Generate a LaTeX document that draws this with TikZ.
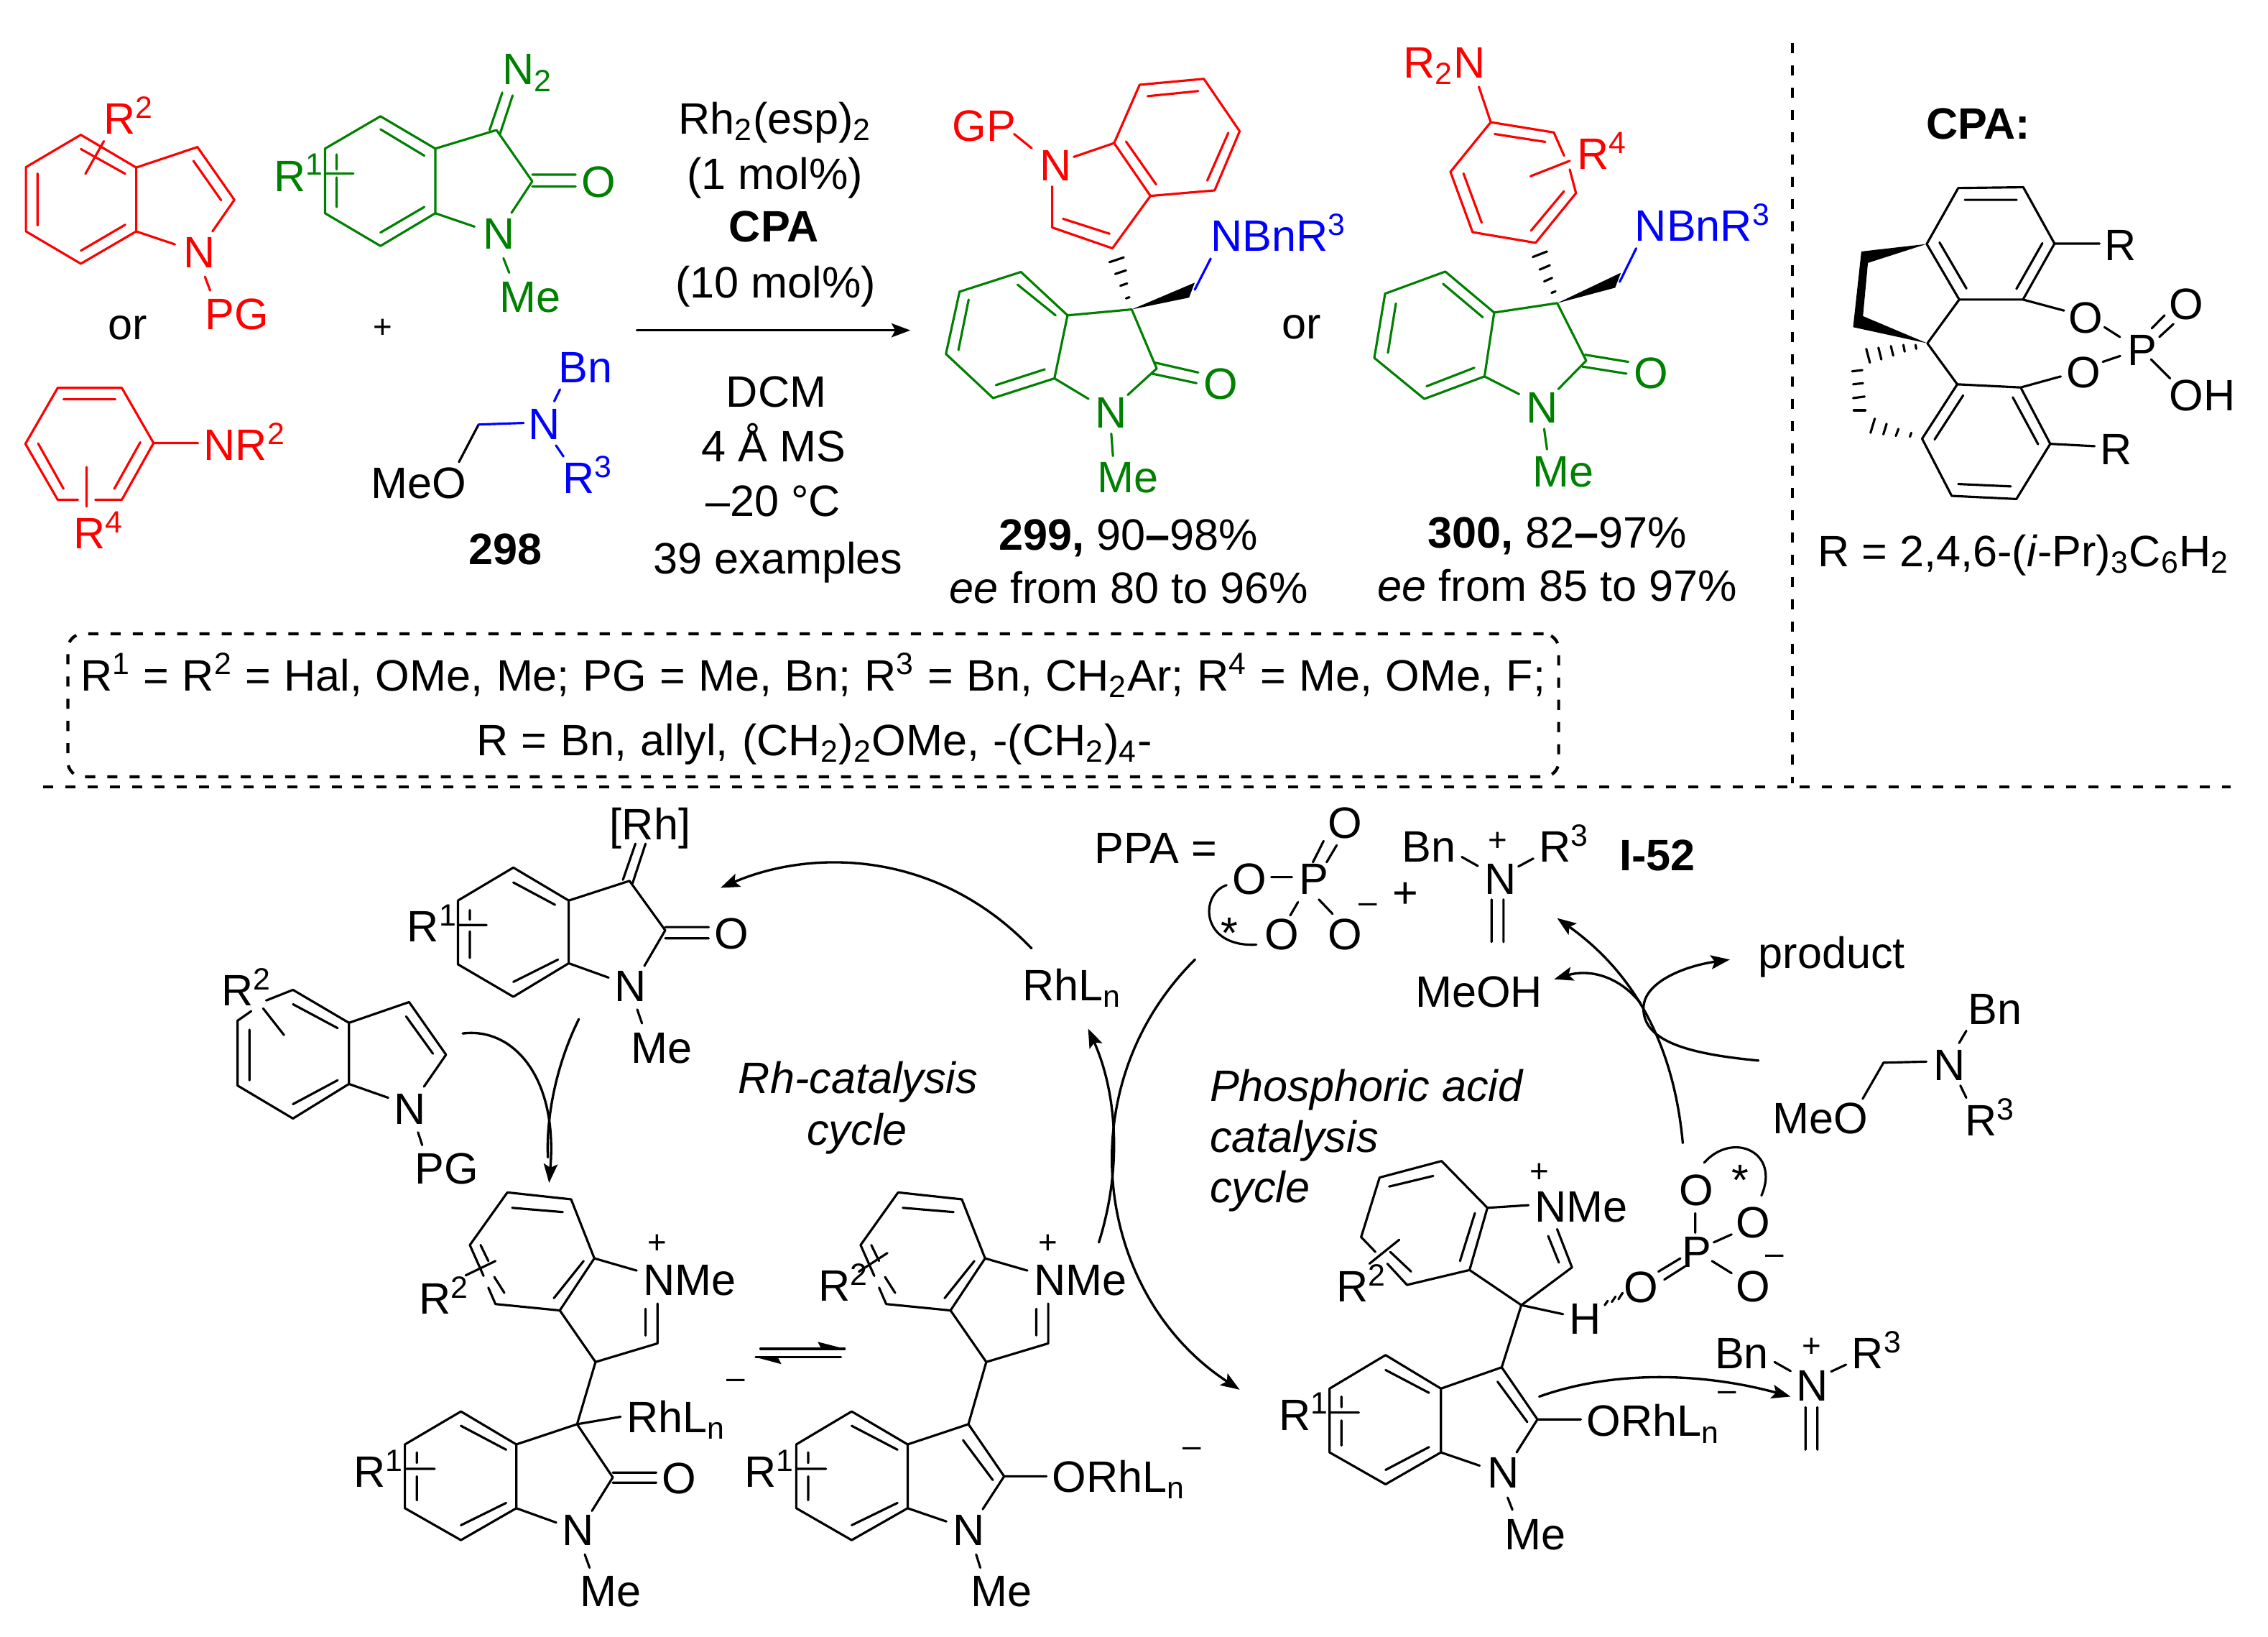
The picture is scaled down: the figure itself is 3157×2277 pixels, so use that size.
\documentclass[tikz,border=0pt]{standalone}
\usepackage{fontspec}
\setmainfont{Liberation Sans}
\usetikzlibrary{arrows.meta}
\definecolor{molgreen}{rgb}{0,0.5,0}
\newcommand{\supr}[1]{\textsuperscript{#1}}
\newcommand{\subr}[1]{\textsubscript{#1}}
\tikzset{txt/.style={inner sep=0pt, outer sep=0pt, anchor=base west, font=\fontsize{17.4}{20}\selectfont},
         sign/.style={inner sep=0pt, outer sep=0pt, font=\fontsize{13}{15}\selectfont},
         rxn/.style={line width=.95pt, -{Stealth[length=7.5pt,width=5.5pt,inset=1.5pt]}},
         sepline/.style={line width=1.2pt, dash pattern=on 4pt off 4.8pt, line cap=butt}}

\begin{document}
\begin{tikzpicture}[x=.01cm, y=-.01cm, line width=.9pt, line cap=round, line join=round]
  \useasboundingbox (0,0) rectangle (3157,2277);

  % separators
  \coordinate (sepT) at (2495,60);
  \coordinate (sepB) at (2495,1090);
  \coordinate (sepL) at (60,1095);
  \coordinate (sepR) at (3105,1095);
  \draw[sepline] (sepT) -- (sepB) (sepL) -- (sepR);
  \node[draw, sepline, rounded corners=6pt, minimum width=20.74cm, minimum height=1.99cm, inner sep=0pt] (legendbox) at (1132,981.5) {};
  \node[txt] (legend1) at (112,961) {\makebox[20.38cm][s]{R\supr{1} = R\supr{2} = Hal, OMe, Me; PG = Me, Bn; R\supr{3} = Bn, CH\subr{2}Ar; R\supr{4} = Me, OMe, F;}};
  \node[txt] (legend2) at (663,1051) {\makebox[9.4cm][s]{R = Bn, allyl, (CH\subr{2})\subr{2}OMe, -(CH\subr{2})\subr{4}-}};

  % starting materials and conditions
  \begin{scope}[xscale=.8036, yscale=.5485]
    \begin{scope}[red]
      \draw (236,425) -- (140,342) -- (45,424) -- (45,587) -- (140,669) -- (236,587) -- cycle;
      \draw (65,440) -- (65,572) (140,636) -- (217,570) (140,378) -- (217,441);
      \draw (236,425) -- (342,373) -- (406,507) -- (368,587) (236,587) -- (303,620) (335,408) -- (383,508);
      \draw (355,702) -- (364,737) (180,358) -- (148,441);
      \node[txt] (indN) at (318,680) {N};
      \node[txt] (indPG) at (355,835) {PG};
      \node[txt] (indR) at (180,340) {R\supr{2}};

      \draw (135,1268) -- (100,1268) -- (44,1126) -- (100,984) -- (211,984) -- (266,1124) -- (211,1268) -- (165,1268);
      \draw (110,1013) -- (200,1013) (66,1125) -- (110,1240) (243,1122) -- (198,1240) (150,1185) -- (150,1285) (266,1124) -- (343,1124);
      \node[txt] (anilN) at (353,1168) {NR\supr{2}};
      \node[txt] (anilR) at (127,1392) {R\supr{4}};
    \end{scope}
    \node[txt] (or1) at (187,862) {or};
    \node[sign] (plus1) at (663,833) {+};

    \begin{scope}[molgreen]
      \draw (754,377) -- (659,295) -- (563,377) -- (563,541) -- (659,624) -- (754,541) -- cycle;
      \draw (659,328) -- (735,395) (659,590) -- (735,525) (583,392) -- (583,430) (583,450) -- (583,525) (563,440) -- (612,440);
      \draw (754,377) -- (860,330) -- (922,460) -- (886,540) (754,541) -- (822,575);
      \draw (922,443) -- (997,443) (922,473) -- (997,473) (872,655) -- (882,692);
      \draw (848,330) -- (870,235) (866,340) -- (888,242);
      \node[txt] (diaN2) at (870,215) {N\subr{2}};
      \node[txt] (diaO) at (1007,500) {O};
      \node[txt] (diaN) at (837,632) {N};
      \node[txt] (diaMe) at (865,792) {Me};
      \node[txt] (diaR) at (475,485) {R\supr{1}};
    \end{scope}

    \node[txt] (aminMeO) at (643,1265) {MeO};
    \draw (795,1172) -- (829,1077);
    \begin{scope}[blue]
      \draw (829,1077) -- (907,1073) (970,988) -- (960,1018) (963,1130) -- (976,1158);
      \node[txt] (aminN) at (915,1115) {N};
      \node[txt] (aminBn) at (968,970) {Bn};
      \node[txt] (aminR) at (975,1252) {R\supr{3}};
    \end{scope}
    \node[txt] (lab298) at (812,1432) {\textbf{298}};

    \node[txt] (cond1) at (1175,340) {Rh\subr{2}(esp)\subr{2}};
    \node[txt] (cond2) at (1190,480) {(1 mol\%)};
    \node[txt] (cond3) at (1263,613) {\textbf{CPA}};
    \node[txt] (cond4) at (1170,755) {(10 mol\%)};
    \node[txt] (cond5) at (1258,1033) {DCM};
    \node[txt] (cond6) at (1215,1172) {4 Å MS};
    \node[txt] (cond7) at (1222,1310) {–20 °C};
    \node[txt] (cond8) at (1132,1455) {39 examples};
    \coordinate (mainA) at (1103,838);
    \coordinate (mainB) at (1577,838);
    \draw[rxn] (mainA) -- (mainB);
  \end{scope}

  % products
  \begin{scope}[shift={(1240,0)}, xscale=.7908, yscale=.5485]
    \begin{scope}[red]
      \draw (393,363) -- (438,215) -- (551,200) -- (614,333) -- (570,483) -- (457,497) -- cycle;
      \draw (452,244) -- (541,231) (594,337) -- (557,458) (414,359) -- (467,468);
      \draw (393,363) -- (322,398) (284,473) -- (284,577) -- (390,630) -- (457,497) (303,555) -- (385,593) (248,376) -- (217,340);
      \node[txt] (p1N) at (262,458) {N};
      \node[txt] (p1GP) at (108,358) {GP};
    \end{scope}
    \foreach \a/\b/\c/\d in {385/665/410/653, 395/695/414/686, 404/725/416/719, 414/757/420/754}
      \draw (\a,\b) -- (\c,\d);
    \fill (424,785) -- (535,717) -- (525,755) -- cycle;
    \draw[blue] (535,735) -- (563,656);
    \node[txt, blue] (p1NBn) at (563,637) {NBnR\supr{3}};
    \begin{scope}[molgreen]
      \draw (311,800) -- (229,690) -- (121,740) -- (97,898) -- (180,1010) -- (288,960) -- cycle;
      \draw (223,722) -- (290,800) (137,760) -- (119,888) (185,977) -- (271,937);
      \draw (311,800) -- (424,785) -- (468,935) -- (417,1002) (288,960) -- (348,1012);
      \draw (465,920) -- (541,945) (460,948) -- (538,972) (388,1100) -- (391,1157);
      \node[txt] (p1N2) at (360,1085) {N};
      \node[txt] (p1O) at (551,1012) {O};
      \node[txt] (p1Me) at (363,1250) {Me};
    \end{scope}
    \node[txt] (or2) at (688,860) {or};
    \node[txt] (lab299) at (190,1395) {\textbf{299,} 90\textbf{–}98\%};
    \node[txt] (ee299) at (103,1530) {\textit{ee} from 80 to 96\%};

    \begin{scope}[red]
      \draw (1185,395) -- (1167,336) -- (1056,310) -- (985,436) -- (1024,589) -- (1135,616) -- (1206,490) -- (1195,430);
      \draw (1063,340) -- (1152,360) (1185,485) -- (1127,585) (1040,565) -- (1008,440) (1126,447) -- (1195,408) (1035,220) -- (1056,310);
      \node[txt] (p2R) at (1208,430) {R\supr{4}};
      \node[txt] (p2N) at (902,198) {R\subr{2}N};
    \end{scope}
    \foreach \a/\b/\c/\d in {1130/652/1155/638, 1142/684/1160/673, 1150/714/1164/705, 1163/743/1170/739}
      \draw (\a,\b) -- (\c,\d);
    \fill (1173,769) -- (1285,692) -- (1275,730) -- cycle;
    \draw[blue] (1283,715) -- (1312,630);
    \node[txt, blue] (p2NBn) at (1310,612) {NBnR\supr{3}};
    \begin{scope}[molgreen]
      \draw (1062,793) -- (976,689) -- (870,745) -- (851,908) -- (939,1012) -- (1045,955) -- cycle;
      \draw (972,720) -- (1042,805) (889,770) -- (875,895) (943,980) -- (1027,933);
      \draw (1062,793) -- (1173,769) -- (1224,915) -- (1175,987) (1045,955) -- (1106,1000);
      \draw (1222,900) -- (1298,918) (1217,930) -- (1295,948) (1150,1088) -- (1155,1140);
      \node[txt] (p2N2) at (1118,1072) {N};
      \node[txt] (p2O) at (1308,985) {O};
      \node[txt] (p2Me) at (1130,1235) {Me};
    \end{scope}
    \node[txt] (lab300) at (945,1390) {\textbf{300,} 82\textbf{–}97\%};
    \node[txt] (ee300) at (857,1525) {\textit{ee} from 85 to 97\%};
  \end{scope}

  % catalyst
  \begin{scope}[shift={(2440,0)}, xscale=.4573, yscale=.5485]
    \node[txt] (cpaT) at (527,352) {\textbf{CPA:}};
    \draw (529,619) -- (625,477) -- (823,475) -- (918,618) -- (822,760) -- (628,760) -- cycle;
    \draw (645,507) -- (803,507) (881,617) -- (802,733) (568,615) -- (650,732);
    \draw (622,975) -- (815,983) -- (905,1126) -- (802,1266) -- (605,1258) -- (515,1113) -- cycle;
    \draw (640,1003) -- (553,1115) (791,1008) -- (868,1127) (625,1228) -- (785,1234);
    \draw (628,760) -- (531,871) -- (622,975);
    \draw (822,760) -- (947,788) (815,983) -- (937,955) (1070,830) -- (1117,855) (1065,918) -- (1118,903);
    \draw (1214,833) -- (1253,800) (1237,855) -- (1280,822) (1212,912) -- (1270,960);
    \draw (918,618) -- (1055,618) (905,1126) -- (1040,1132);
    \node[txt] (cpaO1) at (960,845) {O};
    \node[txt] (cpaO2) at (955,983) {O};
    \node[txt] (cpaP) at (1140,927) {P};
    \node[txt] (cpaO3) at (1268,810) {O};
    \node[txt] (cpaOH) at (1268,1042) {OH};
    \node[txt] (cpaR1) at (1070,660) {R};
    \node[txt] (cpaR2) at (1058,1178) {R};
    \fill (529,619) -- (330,638) -- (305,830) -- (531,871) -- (335,802) -- (350,667) -- cycle;
    \foreach \a/\b/\c/\d in {495/875/497/885, 458/875/462/892, 420/878/427/902, 382/882/391/912, 345/885/356/920,
                             302/942/333/939, 305/975/335/972, 305/1010/340/1006, 307/1041/342/1041,
                             358/1098/371/1062, 397/1102/407/1075, 435/1106/443/1088, 478/1108/482/1098}
      \draw (\a,\b) -- (\c,\d);
    \node[txt] (cpaDef) at (198,1437) {R = 2,4,6-(\textit{i}-Pr)\subr{3}C\subr{6}H\subr{2}};
  \end{scope}

  % Rh cycle
  \begin{scope}[shift={(300,1100)}, xscale=.8291, yscale=.7398]
    \draw (593,207) -- (500,145) -- (407,207) -- (407,327) -- (500,388) -- (593,325) -- cycle;
    \draw (500,173) -- (570,215) (500,360) -- (575,318) (427,225) -- (427,243) (427,265) -- (427,315) (407,253) -- (455,253);
    \draw (593,207) -- (695,170) -- (755,263) -- (720,330) (593,325) -- (660,352);
    \draw (755,257) -- (828,257) (755,278) -- (828,278) (708,412) -- (716,438) (684,168) -- (705,100) (700,175) -- (722,100);
    \node[txt] (cbO) at (838,298) {O};
    \node[txt] (cbN) at (670,397) {N};
    \node[txt] (cbMe) at (698,513) {Me};
    \node[txt] (cbRh) at (662,92) {[Rh]};
    \node[txt] (cbR) at (322,285) {R\supr{1}};

    \draw (85,395) -- (130,375) -- (224,437) -- (224,552) -- (130,617) -- (37,555) -- (37,433) -- (60,415);
    \draw (130,402) -- (205,447) (130,590) -- (205,545) (57,450) -- (57,545);
    \draw (224,437) -- (325,398) -- (387,497) -- (350,557) (320,425) -- (365,495) (224,552) -- (290,578);
    \draw (340,643) -- (347,667) (80,410) -- (115,460);
    \node[txt] (inN) at (300,628) {N};
    \node[txt] (inPG) at (335,740) {PG};
    \node[txt] (inR) at (10,405) {R\supr{2}};

    \coordinate (a1A) at (415,457);
    \coordinate (a1B) at (560,738);
    \coordinate (a2A) at (610,430);
    \coordinate (a2B) at (558,690);
    \coordinate (a3A) at (1370,297);
    \coordinate (a3B) at (848,183);
    \coordinate (a4A) at (1483,850);
    \coordinate (a4B) at (1465,448);
    \draw[rxn] (a1A) .. controls (500,445) and (575,540) .. (a1B);
    \draw[line width=.95pt] (a2A) .. controls (570,520) and (555,620) .. (a2B);
    \draw[rxn] (a3A) .. controls (1210,110) and (1000,110) .. (a3B);
    \draw[rxn] (a4A) .. controls (1525,700) and (1510,560) .. (a4B);

    % the two indolium parts
    \foreach \s/\n in {0/L,656/M} {
      \begin{scope}[shift={(\s,0)}]
        \draw (490,756) -- (597,769) -- (636,880) -- (578,978) -- (470,966) (450,913) -- (427,855) -- (490,756);
        \draw (498,785) -- (583,793) (618,885) -- (568,955) (445,855) -- (458,885) (468,915) -- (485,945);
        \draw (470,966) -- (458,935);
        \draw (636,880) -- (707,903) (742,965) -- (742,1040) -- (638,1075) -- (578,978) (722,975) -- (722,1025);
        \node[txt] (nme\n) at (718,950) {NMe};
        \node[sign] (plus\n) at (742,853) {+};
      \end{scope}
    }
    \draw (420,912) -- (470,885) (1080,905) -- (1128,870);
    \node[txt] (r2L) at (342,985) {R\supr{2}};
    \node[txt] (r2M) at (1012,960) {R\supr{2}};

    \draw (638,1075) -- (607,1192);
    \draw (505,1230) -- (412,1168) -- (318,1230) -- (318,1350) -- (412,1410) -- (505,1350) -- cycle;
    \draw (412,1195) -- (488,1240) (412,1382) -- (488,1340) (338,1245) -- (338,1265) (338,1290) -- (338,1335) (318,1276) -- (368,1276);
    \draw (505,1230) -- (607,1192) -- (667,1292) -- (632,1355) (505,1350) -- (572,1377);
    \draw (667,1283) -- (740,1283) (667,1302) -- (740,1302) (620,1437) -- (628,1462) (607,1192) -- (680,1178);
    \node[txt] (lowO) at (750,1322) {O};
    \node[txt] (lowN) at (582,1420) {N};
    \node[txt] (lowMe) at (612,1535) {Me};
    \node[txt] (lowRh) at (690,1208) {RhL\subr{n}};
    \node[sign] (lowMinus) at (873,1117) {–};
    \node[txt] (lowR) at (232,1310) {R\supr{1}};

    \coordinate (eqA) at (915,1050);
    \coordinate (eqB) at (1056,1050);
    \coordinate (eqC) at (1050,1066);
    \coordinate (eqD) at (907,1066);
    \fill (eqB) -- (1011,1037) -- (1017,1050) -- cycle;
    \fill (eqD) -- (950,1079) -- (944,1066) -- cycle;
    \draw[line width=.95pt] (eqA) -- (eqB) (eqC) -- (eqD);

    \draw (1294,1075) -- (1264,1192);
    \draw (1162,1230) -- (1068,1168) -- (975,1230) -- (975,1350) -- (1068,1410) -- (1162,1350) -- cycle;
    \draw (1068,1195) -- (1145,1240) (1068,1382) -- (1145,1340) (995,1245) -- (995,1265) (995,1290) -- (995,1335) (975,1276) -- (1025,1276);
    \draw (1162,1230) -- (1264,1192) -- (1324,1290) -- (1288,1352) (1255,1222) -- (1305,1297) (1162,1350) -- (1227,1375);
    \draw (1324,1290) -- (1395,1290) (1277,1437) -- (1284,1462);
    \node[txt] (enN) at (1238,1420) {N};
    \node[txt] (enMe) at (1268,1535) {Me};
    \node[txt] (enR) at (888,1310) {R\supr{1}};
    \node[txt] (enORh) at (1405,1320) {ORhL\subr{n}};

    \node[txt] (rhl) at (1355,395) {RhL\subr{n}};
    \node[txt] (rhcat) at (878,570) {\textit{Rh-catalysis}};
    \node[txt] (rhcyc) at (993,667) {\textit{cycle}};
  \end{scope}

  % phosphoric acid cycle
  \begin{scope}[shift={(1500,1100)}, xscale=.8291, yscale=.7398]
    \node[sign] (enMinus) at (192,1245) {–};
    \node[txt] (ppa) at (28,137) {PPA =};
    \draw (325,163) -- (360,163) (395,135) -- (413,95) (418,135) -- (435,103) (370,210) -- (357,235) (405,205) -- (428,232);
    \node[txt] (ppaO1) at (260,195) {O};
    \node[txt] (ppaP) at (372,195) {P};
    \node[txt] (ppaO2) at (420,90) {O};
    \node[txt] (ppaO3) at (314,300) {O};
    \node[txt] (ppaO4) at (420,300) {O};
    \node[sign] (ppaMinus) at (487,222) {–};
    \draw (250,178) .. controls (205,195) and (205,295) .. (300,290);
    \node[txt] (ppaStar) at (240,297) {*};
    \node[txt, anchor=center] (ppaPlus) at (550,197) {+};

    \draw (645,125) -- (672,142) (740,143) -- (765,128) (695,205) -- (695,285) (715,205) -- (715,285);
    \node[txt] (imBn) at (545,135) {Bn};
    \node[txt] (imN) at (683,195) {N};
    \node[sign] (imPlus) at (705,97) {+};
    \node[txt] (imR) at (775,135) {R\supr{3}};
    \node[txt] (lab52) at (910,150) {\textbf{I-52}};

    \node[txt] (meoh) at (567,407) {MeOH};
    \node[txt] (prod) at (1143,335) {product};
    \coordinate (b1A) at (1016,663);
    \coordinate (b1B) at (805,240);
    \coordinate (b2A) at (945,400);
    \coordinate (b2B) at (800,355);
    \coordinate (b3A) at (1143,508);
    \coordinate (b3B) at (1095,318);
    \coordinate (b4A) at (197,318);
    \coordinate (b4B) at (272,1127);
    \coordinate (b5A) at (775,1140);
    \coordinate (b5B) at (1197,1140);
    \draw[rxn] (b1A) .. controls (1000,470) and (930,340) .. (b1B);
    \draw[rxn] (b2A) .. controls (910,350) and (860,335) .. (b2B);
    \draw[rxn] (b3A) .. controls (1020,495) and (950,470) .. (950,410) .. controls (950,360) and (1020,330) .. (b3B);
    \draw[rxn] (b4A) .. controls (-20,560) and (30,950) .. (b4B);
    \draw[rxn] (b5A) .. controls (900,1090) and (1050,1095) .. (b5B);

    \draw (1318,580) -- (1353,512) -- (1425,510) (1480,475) -- (1492,452) (1482,555) -- (1492,578);
    \node[txt] (mmMeO) at (1167,645) {MeO};
    \node[txt] (mmN) at (1437,545) {N};
    \node[txt] (mmBn) at (1495,440) {Bn};
    \node[txt] (mmR) at (1490,650) {R\supr{3}};

    \node[txt] (pac1) at (222,585) {\textit{Phosphoric acid}};
    \node[txt] (pac2) at (222,680) {\textit{catalysis}};
    \node[txt] (pac3) at (222,775) {\textit{cycle}};

    \draw (520,890) -- (553,930) -- (658,902) -- (688,785) -- (611,697) -- (507,728) -- (476,840) -- (500,868);
    \draw (523,745) -- (597,725) (667,795) -- (642,885) (525,868) -- (560,905) (490,890) -- (540,845);
    \draw (688,785) -- (757,780) (805,825) -- (830,897) -- (745,968) -- (658,902) (790,838) -- (808,888);
    \draw (745,968) -- (815,985) (745,968) -- (712,1085);
    \node[txt] (trR) at (435,962) {R\supr{2}};
    \node[txt] (trN) at (768,812) {NMe};
    \node[sign] (trPlus) at (775,720) {+};
    \node[txt] (trH) at (825,1022) {H};
    \draw (885,968) -- (890,960) (897,962) -- (903,952) (908,957) -- (915,945);
    \node[txt] (trO1) at (917,963) {O};
    \node[txt] (trP) at (1015,897) {P};
    \node[txt] (trO2) at (1010,780) {O};
    \node[txt] (trO3) at (1105,842) {O};
    \node[txt] (trO4) at (1105,962) {O};
    \node[sign] (trMinus) at (1170,883) {–};
    \node[txt] (trStar) at (1098,762) {*};
    \draw (975,905) -- (1012,880) (985,920) -- (1020,895) (1037,795) -- (1037,832) (1068,850) -- (1098,835) (1065,885) -- (1098,908);
    \draw (1052,700) .. controls (1100,640) and (1180,680) .. (1148,762);

    \draw (610,1125) -- (517,1062) -- (423,1125) -- (423,1245) -- (517,1305) -- (610,1245) -- cycle;
    \draw (517,1090) -- (590,1133) (517,1278) -- (590,1235) (443,1140) -- (443,1160) (443,1185) -- (443,1232) (423,1170) -- (472,1170);
    \draw (610,1125) -- (712,1085) -- (772,1183) -- (737,1245) (705,1112) -- (755,1188) (610,1245) -- (675,1270);
    \draw (772,1183) -- (845,1183) (722,1330) -- (730,1353);
    \node[txt] (trN2) at (688,1312) {N};
    \node[txt] (trMe) at (717,1428) {Me};
    \node[txt] (trORh) at (855,1215) {ORhL\subr{n}};
    \node[sign] (trMinus2) at (1090,1140) {–};
    \node[txt] (trR1) at (338,1203) {R\supr{1}};

    \draw (1170,1075) -- (1197,1092) (1265,1093) -- (1290,1080) (1222,1160) -- (1222,1240) (1242,1160) -- (1242,1240);
    \node[txt] (im2Bn) at (1070,1088) {Bn};
    \node[txt] (im2N) at (1207,1148) {N};
    \node[sign] (im2Plus) at (1233,1048) {+};
    \node[txt] (im2R) at (1300,1088) {R\supr{3}};
  \end{scope}
\end{tikzpicture}
\end{document}
